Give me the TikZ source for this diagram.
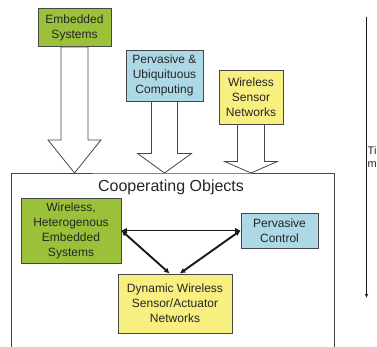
\documentclass[tikz,border=0pt]{standalone}
\usepackage{fontspec}
\setmainfont{Liberation Sans}
\usetikzlibrary{positioning,calc,arrows.meta}
\definecolor{esgreen}{RGB}{155,192,58}
\definecolor{pcblue}{RGB}{173,216,230}
\definecolor{wsyellow}{RGB}{247,239,127}
\definecolor{edge}{RGB}{70,70,70}

\begin{document}
\begin{tikzpicture}[x=1pt, y=-1pt,
		b/.style={draw=edge, line width=0.9pt, align=center, inner sep=0pt, text=black!85, font=\fontsize{12}{15}\selectfont},
		g/.style={b, fill=esgreen}, l/.style={b, fill=pcblue}, w/.style={b, fill=wsyellow},
		feed/.style={draw=edge, line width=0.8pt, fill=white},
		link/.style={{Latex[length=5.5pt,width=5.5pt]}-{Latex[length=5.5pt,width=5.5pt]}, line width=1.9pt, black!90},
		time/.style={-{Latex[length=4pt,width=3.5pt]}, line width=1.5pt, black!90}]
		\useasboundingbox (0,0) rectangle (377,347);

		\node[g, minimum width=73, minimum height=38] (es) at (74.5,27.5) {Embedded\\Systems};
		\node[l, minimum width=77, minimum height=51] (puc) at (164.5,75.5) {Pervasive \&\\Ubiquituous\\Computing};
		\node[w, minimum width=64, minimum height=54] (wsn) at (251,97) {Wireless\\Sensor\\Networks};

		% cooperating objects frame, runs off the bottom
		\coordinate (top) at (172,173);
		\draw[draw=edge, line width=0.9pt] (11,352) |- (top) -| (334,352);
		\node[text=black!85, font=\fontsize{16}{18}\selectfont] (co) at (171,187) {Cooperating Objects};

		\draw[feed] ($(es.south)+(-13.5,0)$) -- ++(0,93) -- ++(-13,0) -- (es.south |- top) -- ($(es.south)+(26.5,93)$) -- ++(-13,0) -- ($(es.south)+(13.5,0)$) -- cycle;
		\draw[feed] ($(puc.south)+(-13,0)$) -- ++(0,52) -- ++(-14,0) -- (puc.south |- top) -- ($(puc.south)+(27,52)$) -- ++(-14,0) -- ($(puc.south)+(13,0)$) -- cycle;
		\draw[feed] ($(wsn.south)+(-13.5,0)$) -- ++(0,37) -- ++(-13,0) -- (wsn.south |- top) -- ($(wsn.south)+(26.5,37)$) -- ++(-13,0) -- ($(wsn.south)+(13.5,0)$) -- cycle;

		\node[g, minimum width=100, minimum height=65] (whes) at (71,230.5) {Wireless,\\Heterogenous\\Embedded\\Systems};
		\node[l, minimum width=77, minimum height=35] (pc) at (279.5,230.5) {Pervasive\\Control};
		\node[w, minimum width=114, minimum height=59] (dws) at (175,303.5) {Dynamic Wireless\\Sensor/Actuator\\Networks};

		\draw[link] (whes.east) -- (pc.west);
		\draw[link] (whes.east) -- (dws.100);
		\draw[link] (pc.west) -- (dws.81);

		% time axis
		\coordinate (t0) at (366.5,17);
		\coordinate (t1) at (366.5,298);
		\draw[time] (t0) -- (t1);
		\node[anchor=north west, align=left, inner sep=0pt, text=black!85, font=\fontsize{11}{13}\selectfont] (tl) at (367.5,146) {Ti\\m};
	\end{tikzpicture}
\end{document}
